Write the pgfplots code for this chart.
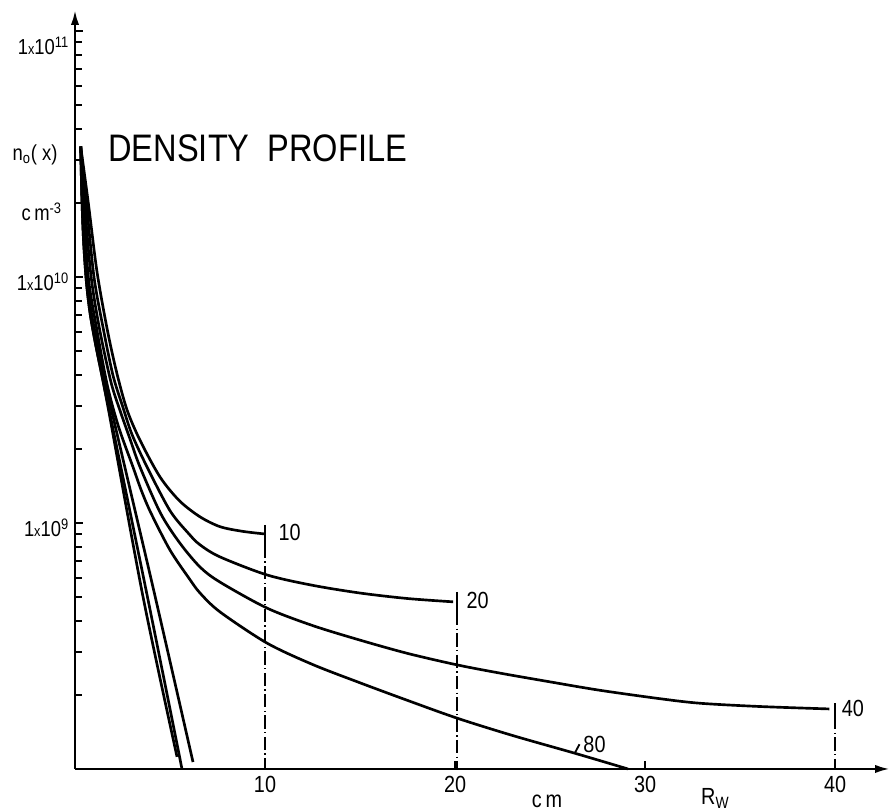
\documentclass[border=0pt]{standalone}
\usepackage{pgfplots}
\pgfplotsset{compat=1.18}
\usepackage{fontspec}
\setmainfont{Liberation Sans}[FakeStretch=0.85]
\usetikzlibrary{arrows.meta}
\pgfplotsset{curve/.style={black, solid, no markers, line width=1.6pt, smooth, tension=0.5},
  vline/.style={black, no markers, line width=1.3pt, sharp plot},
  dashdot/.style={black, no markers, line width=1.3pt, sharp plot, dash pattern=on 8pt off 2pt on 0.8pt off 2pt}}
\begin{document}
\begin{tikzpicture}
\begin{axis}[
  width=489pt, height=455.4pt, scale only axis,
  xmin=0, xmax=42.89, ymin=1e8, ymax=1.217e11, ymode=log,
  axis lines=left,
  axis line style={line width=1.5pt, -{Latex[length=9pt,width=5pt]}},
  /pgf/number format/assume math mode=true,
  xtick={10,20,30,40},
  ytick={1e9,1e10,1e11},
  yticklabels={1{\small x}10\textsuperscript{9},1{\small x}10\textsuperscript{10},\raisebox{-11pt}[0pt][0pt]{1{\small x}10\textsuperscript{11}}},
  minor ytick={2e8,3e8,4e8,5e8,6e8,7e8,8e8,9e8,2e9,3e9,4e9,5e9,6e9,7e9,8e9,9e9,2e10,3e10,4e10,5e10,6e10,7e10,8e10,9e10},
  tick align=inside,
  major tick length=5pt, minor tick length=4pt,
  tick style={line width=1.2pt, black},
  xticklabel style={font=\fontsize{14}{14}\selectfont, yshift=-1pt},
  yticklabel style={font=\fontsize{13}{13}\selectfont, yshift=-3pt},
  clip=false,
]
% curve 10
\addplot[curve] coordinates {
 (0.3,3.39e10) (0.7,2.00e10) (1.16,1.047e10) (1.7,6.10e9) (2.2,4.07e9) (2.74,2.88e9)
 (3.42,2.17e9) (4.47,1.54e9) (5.5,1.23e9) (6.58,1.059e9) (7.63,9.66e8) (8.8,9.25e8) (10,9.02e8)};
% curve 20
\addplot[curve] coordinates {
 (0.3,3.39e10) (0.6,2.00e10) (1.0,1.0e10) (1.5,6.10e9) (2.0,3.98e9) (2.5,2.99e9) (3.0,2.29e9)
 (3.79,1.69e9) (5.0,1.122e9) (6.0,9.02e8) (6.58,8.15e8) (7.63,7.28e8) (10.1,6.15e8)
 (12.5,5.58e8) (15,5.19e8) (17.5,4.93e8) (19.9,4.78e8)};
% curve 40
\addplot[curve] coordinates {
 (0.3,3.39e10) (0.5,2.00e10) (0.85,1.0e10) (1.3,6.10e9) (1.9,3.72e9) (2.4,2.82e9) (2.9,2.19e9)
 (3.42,1.69e9) (4.5,1.096e9) (5.5,8.32e8) (6.58,6.62e8) (7.63,5.75e8) (10.1,4.51e8)
 (12.5,3.83e8) (15,3.34e8) (17.5,2.95e8) (20.1,2.65e8) (22.4,2.45e8) (25,2.26e8)
 (27.6,2.09e8) (30.8,1.93e8) (32.9,1.85e8) (36,1.795e8) (39.7,1.754e8)};
% curve 80
\addplot[curve] coordinates {
 (0.3,3.39e10) (0.45,2.00e10) (0.7,1.0e10) (1.15,6.10e9) (1.7,3.63e9) (2.3,2.45e9) (3.05,1.69e9)
 (3.5,1.35e9) (4.0,1.096e9) (5.0,7.76e8) (6.0,5.96e8) (6.58,5.19e8) (7.63,4.35e8) (10.1,3.25e8)
 (12.5,2.66e8) (15,2.24e8) (17.5,1.90e8) (20.1,1.61e8) (23,1.37e8) (26.4,1.153e8) (29.1,1.0e8)};
% steep lines
\addplot[curve] coordinates {
 (0.3,3.39e10) (0.36,2.14e10) (0.45,1.41e10) (0.6,9.55e9) (0.8,7.08e9) (1.1,5.25e9)
 (1.74,3.02e9) (3.89,4.68e8) (5.63,1.0e8)};
\addplot[curve] coordinates {
 (0.3,3.39e10) (0.36,2.14e10) (0.45,1.41e10) (0.6,9.55e9) (0.8,7.08e9) (1.1,5.25e9)
 (1.74,2.95e9) (3.58,5.01e8) (5.37,1.12e8)};
\addplot[curve] coordinates {
 (0.3,3.39e10) (0.37,2.14e10) (0.47,1.41e10) (0.63,9.77e9) (0.85,7.24e9) (1.15,5.50e9)
 (1.8,3.16e9) (4.1,5.50e8) (6.21,1.067e8)};
% end markers and dash-dot verticals
\addplot[vline] coordinates {(10,9.82e8) (10,8.15e8)};
\addplot[dashdot] coordinates {(10,8.15e8) (10,1e8)};
\addplot[vline] coordinates {(20.1,5.25e8) (20.1,4.35e8)};
\addplot[dashdot] coordinates {(20.1,4.35e8) (20.1,1e8)};
\addplot[vline] coordinates {(40,1.85e8) (40,1.64e8)};
\addplot[dashdot] coordinates {(40,1.64e8) (40,1e8)};
\addplot[vline, line width=1.1pt] coordinates {(26.3,1.16e8) (26.55,1.26e8)};
% labels
\node[anchor=west, font=\fontsize{14}{14}\selectfont] at (axis cs:10.4,9.18e8) {10};
\node[anchor=west, font=\fontsize{14}{14}\selectfont] at (axis cs:20.3,4.82e8) {20};
\node[anchor=west, font=\fontsize{14}{14}\selectfont] at (axis cs:40.05,1.77e8) {40};
\node[anchor=west, font=\fontsize{14}{14}\selectfont] at (axis cs:26.45,1.26e8) {80};
\node[anchor=west, font=\fontsize{23}{23}\selectfont] at (axis cs:1.45,3.34e10) {DENSITY\ \ PROFILE};
\node[font=\fontsize{13}{13}\selectfont] at (axis cs:-2.1,3.13e10) {n\textsubscript{o}( x)};
\node[font=\fontsize{13}{13}\selectfont] at (axis cs:-1.75,1.84e10) {c\,m\textsuperscript{-3}};
\node[font=\fontsize{14}{14}\selectfont] at (axis cs:24.84,7.4e7) {c\,m};
\node[font=\fontsize{14}{14}\selectfont] at (axis cs:33.7,7.6e7) {R\textsubscript{W}};
\coordinate (BL) at (rel axis cs:0,0);
\coordinate (TR) at (rel axis cs:1,1);
\end{axis}
\pgfresetboundingbox
\path ([shift={(-45pt,-25.8pt)}]BL) rectangle ([shift={(1.8pt,6pt)}]TR);
\end{tikzpicture}
\end{document}
